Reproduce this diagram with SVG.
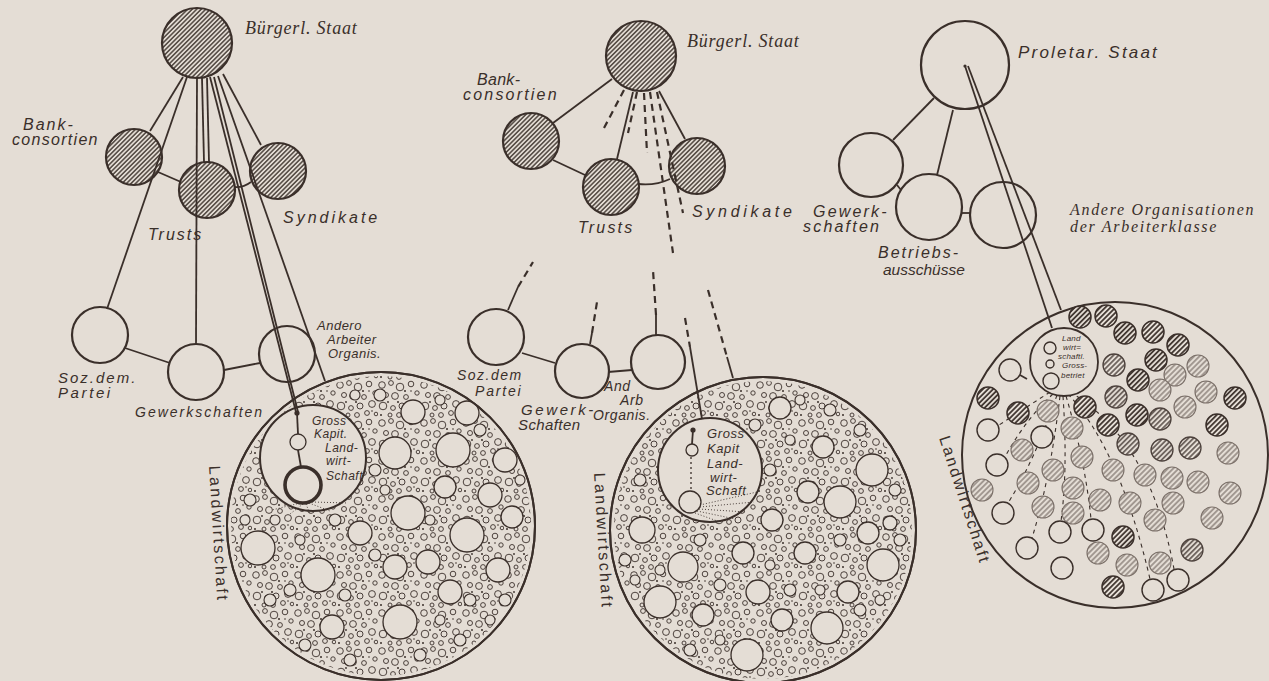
<svg xmlns="http://www.w3.org/2000/svg" width="1269" height="681" viewBox="0 0 1269 681">
<defs>
<style>
.bg{fill:#e4ddd5}
.node{stroke:#3a2f2a;stroke-width:2.2}
.hat{fill:url(#hatch)}
.open{fill:none}
.big{fill:#e4ddd5;stroke:#3a2f2a;stroke-width:2}
.bigo{fill:none;stroke:#3a2f2a;stroke-width:2}
.bub{fill:url(#bub)}
.lc{fill:#e4ddd5;stroke:#3a2f2a;stroke-width:1.3}
.mc{fill:#e4ddd5;stroke:#3a2f2a;stroke-width:1.1}
.conn line,.conn path{stroke:#3a2f2a;stroke-width:1.8;fill:none}
.conn .dash{stroke-dasharray:7 5;stroke-width:2.2}
.conn .dsh3{stroke-dasharray:4 4;stroke-width:1.1}
.p3d{fill:url(#h3d);stroke:#3a2f2a;stroke-width:1.5}
.p3m{fill:url(#h3m);stroke:#4d423d;stroke-width:1.3}
.p3l{fill:url(#h3l);stroke:#7a6f68;stroke-width:1.1}
.p3e{fill:#e4ddd5;stroke:#3a2f2a;stroke-width:1.4}
.hand{font-family:"Liberation Sans",Arial,sans-serif;font-style:italic;fill:#3a2f2a}
.upr{font-family:"Liberation Sans",Arial,sans-serif;fill:#3a2f2a}
.serif{font-family:"Liberation Serif","Times New Roman",serif;font-style:italic;fill:#3a2f2a}
</style>
<pattern id="hatch" width="3.2" height="10" patternUnits="userSpaceOnUse" patternTransform="rotate(45)"><line x1="1.6" y1="0" x2="1.6" y2="10" stroke="#3a2f2a" stroke-width="1.3"/></pattern>
<pattern id="h3d" width="3.6" height="10" patternUnits="userSpaceOnUse" patternTransform="rotate(45)"><rect width="3.6" height="10" fill="#e4ddd5"/><line x1="1.8" y1="0" x2="1.8" y2="10" stroke="#3a2f2a" stroke-width="1.7"/></pattern>
<pattern id="h3m" width="3.6" height="10" patternUnits="userSpaceOnUse" patternTransform="rotate(45)"><rect width="3.6" height="10" fill="#e4ddd5"/><line x1="1.8" y1="0" x2="1.8" y2="10" stroke="#4d423d" stroke-width="1.4"/></pattern>
<pattern id="h3l" width="3.8" height="10" patternUnits="userSpaceOnUse" patternTransform="rotate(45)"><rect width="3.8" height="10" fill="#e4ddd5"/><line x1="1.9" y1="0" x2="1.9" y2="10" stroke="#7a6f68" stroke-width="1.2"/></pattern>
<pattern id="bub" width="42" height="38" patternUnits="userSpaceOnUse">
<g fill="none" stroke="#3a2f2a" stroke-width="0.9">
<circle cx="4" cy="5" r="3.3"/><circle cx="13" cy="3" r="2.4"/><circle cx="22" cy="7" r="3.8"/><circle cx="33" cy="4" r="2.8"/><circle cx="39" cy="13" r="2.2"/><circle cx="8" cy="15" r="2.5"/><circle cx="17" cy="16" r="3.4"/><circle cx="28" cy="17" r="2.4"/><circle cx="36" cy="24" r="3.4"/><circle cx="5" cy="26" r="3.8"/><circle cx="15" cy="28" r="2.4"/><circle cx="24" cy="26" r="3"/><circle cx="31" cy="33" r="2.4"/><circle cx="12" cy="35" r="2"/><circle cx="21" cy="35" r="2.4"/><circle cx="40" cy="34" r="1.8"/>
</g>
<g fill="#3a2f2a"><circle cx="27" cy="11" r="1"/><circle cx="10" cy="22" r="0.9"/><circle cx="33" cy="11" r="0.8"/><circle cx="20" cy="22" r="1"/><circle cx="3" cy="35" r="1"/><circle cx="36" cy="31" r="0.8"/></g>
</pattern>
</defs>
<rect x="0" y="0" width="1269" height="681" class="bg"/>

<!-- Panel 1 big circle -->
<g id="p1-landwirtschaft">
<circle cx="381" cy="526" r="154" class="big"/>
<circle cx="381" cy="526" r="150" class="bub"/>
<g>
<circle cx="413" cy="412" r="12" class="lc"/><circle cx="467" cy="413" r="12" class="lc"/><circle cx="395" cy="453" r="16" class="lc"/><circle cx="453" cy="450" r="17" class="lc"/><circle cx="505" cy="460" r="12" class="lc"/><circle cx="408" cy="513" r="17" class="lc"/><circle cx="445" cy="487" r="11" class="lc"/><circle cx="490" cy="495" r="12" class="lc"/><circle cx="467" cy="535" r="17" class="lc"/><circle cx="512" cy="517" r="11" class="lc"/><circle cx="360" cy="533" r="12" class="lc"/><circle cx="258" cy="548" r="17" class="lc"/><circle cx="318" cy="575" r="17" class="lc"/><circle cx="395" cy="567" r="12" class="lc"/><circle cx="428" cy="562" r="12" class="lc"/><circle cx="450" cy="592" r="12" class="lc"/><circle cx="498" cy="570" r="12" class="lc"/><circle cx="400" cy="622" r="17" class="lc"/><circle cx="332" cy="627" r="12" class="lc"/>
<circle cx="250" cy="500" r="6" class="mc"/><circle cx="245" cy="520" r="5" class="mc"/><circle cx="270" cy="600" r="6" class="mc"/><circle cx="290" cy="590" r="6" class="mc"/><circle cx="305" cy="645" r="6" class="mc"/><circle cx="350" cy="660" r="6" class="mc"/><circle cx="420" cy="655" r="6" class="mc"/><circle cx="460" cy="640" r="6" class="mc"/><circle cx="490" cy="620" r="5" class="mc"/><circle cx="505" cy="600" r="6" class="mc"/><circle cx="520" cy="480" r="5" class="mc"/><circle cx="480" cy="430" r="6" class="mc"/><circle cx="440" cy="400" r="5" class="mc"/><circle cx="380" cy="395" r="6" class="mc"/><circle cx="355" cy="395" r="5" class="mc"/><circle cx="375" cy="470" r="6" class="mc"/><circle cx="385" cy="490" r="5" class="mc"/><circle cx="335" cy="520" r="6" class="mc"/><circle cx="300" cy="540" r="5" class="mc"/><circle cx="345" cy="595" r="6" class="mc"/><circle cx="375" cy="555" r="6" class="mc"/><circle cx="430" cy="520" r="5" class="mc"/><circle cx="440" cy="620" r="5" class="mc"/><circle cx="470" cy="600" r="6" class="mc"/><circle cx="275" cy="520" r="5" class="mc"/>
</g>
<circle cx="381" cy="526" r="154" class="bigo"/>
<text class="upr" font-size="16" letter-spacing="2.4" transform="translate(209,466) rotate(86.5)">Landwirtschaft</text>
</g>
<g id="p1-grosskapital">
<circle cx="313" cy="458" r="53" class="big"/>
<g stroke="#3a2f2a" stroke-width="0.9" stroke-dasharray="1 2" fill="none"><path d="M300,503 L272,510"/><path d="M303,504 L290,514"/><path d="M306,504 L310,514"/><path d="M309,503 L330,511"/><path d="M312,502 L348,503"/></g>
<circle cx="297" cy="413" r="2.6" fill="#3a2f2a"/>
<line x1="297" y1="413" x2="298" y2="434" stroke="#3a2f2a" stroke-width="1.8"/>
<circle cx="298" cy="442" r="8" class="lc" stroke-width="1.8"/>
<line x1="298" y1="450" x2="301" y2="467" stroke="#3a2f2a" stroke-width="1.8"/>
<circle cx="303" cy="485" r="18" fill="#e4ddd5" stroke="#3a2f2a" stroke-width="3.6"/>
<text class="hand" font-size="12" letter-spacing="0.5"><tspan x="312" y="425">Gross</tspan><tspan x="314" y="438">Kapit.</tspan><tspan x="325" y="452">Land-</tspan><tspan x="326" y="465">wirt-</tspan><tspan x="326" y="480">Schaft</tspan></text>
</g>

<!-- Panel 2 big circle -->
<g id="p2-landwirtschaft">
<circle cx="763" cy="530" r="153" class="big"/>
<circle cx="763" cy="530" r="149" class="bub"/>
<g>
<circle cx="780" cy="408" r="11" class="lc"/><circle cx="823" cy="447" r="11" class="lc"/><circle cx="872" cy="470" r="16" class="lc"/><circle cx="808" cy="492" r="11" class="lc"/><circle cx="840" cy="502" r="16" class="lc"/><circle cx="772" cy="520" r="11" class="lc"/><circle cx="868" cy="533" r="11" class="lc"/><circle cx="890" cy="523" r="7" class="lc"/><circle cx="642" cy="530" r="13" class="lc"/><circle cx="683" cy="567" r="15" class="lc"/><circle cx="743" cy="553" r="11" class="lc"/><circle cx="805" cy="553" r="11" class="lc"/><circle cx="883" cy="565" r="16" class="lc"/><circle cx="758" cy="592" r="12" class="lc"/><circle cx="848" cy="592" r="11" class="lc"/><circle cx="660" cy="602" r="16" class="lc"/><circle cx="703" cy="615" r="11" class="lc"/><circle cx="782" cy="620" r="11" class="lc"/><circle cx="827" cy="628" r="16" class="lc"/><circle cx="747" cy="655" r="16" class="lc"/>
<circle cx="640" cy="480" r="6" class="mc"/><circle cx="625" cy="560" r="6" class="mc"/><circle cx="635" cy="580" r="5" class="mc"/><circle cx="690" cy="650" r="6" class="mc"/><circle cx="720" cy="640" r="5" class="mc"/><circle cx="700" cy="540" r="6" class="mc"/><circle cx="720" cy="585" r="6" class="mc"/><circle cx="770" cy="565" r="5" class="mc"/><circle cx="790" cy="590" r="6" class="mc"/><circle cx="820" cy="590" r="5" class="mc"/><circle cx="860" cy="610" r="6" class="mc"/><circle cx="880" cy="600" r="5" class="mc"/><circle cx="900" cy="540" r="6" class="mc"/><circle cx="895" cy="490" r="6" class="mc"/><circle cx="860" cy="430" r="6" class="mc"/><circle cx="830" cy="410" r="6" class="mc"/><circle cx="800" cy="400" r="5" class="mc"/><circle cx="755" cy="425" r="6" class="mc"/><circle cx="770" cy="470" r="6" class="mc"/><circle cx="790" cy="440" r="5" class="mc"/><circle cx="840" cy="540" r="6" class="mc"/><circle cx="660" cy="570" r="5" class="mc"/>
</g>
<circle cx="763" cy="530" r="153" class="bigo"/>
<text class="upr" font-size="16" letter-spacing="2.4" transform="translate(594,473) rotate(86.7)">Landwirtschaft</text>
</g>
<g id="p2-grosskapital">
<circle cx="710" cy="470" r="52" class="big"/>
<g stroke="#3a2f2a" stroke-width="0.9" stroke-dasharray="1 2" fill="none"><path d="M700,505 L757,492"/><path d="M700,507 L754,502"/><path d="M699,509 L746,512"/><path d="M697,511 L735,519"/><path d="M695,513 L720,522"/></g>
<circle cx="693" cy="430" r="2.6" fill="#3a2f2a"/>
<line x1="693" y1="430" x2="692" y2="444" stroke="#3a2f2a" stroke-width="1.8"/>
<circle cx="692" cy="450" r="6" class="lc" stroke-width="1.8"/>
<line x1="691" y1="457" x2="691" y2="490" stroke="#3a2f2a" stroke-width="1.3" stroke-dasharray="2 3"/>
<circle cx="690" cy="502" r="11" class="lc" stroke-width="1.8"/>
<text class="hand" font-size="13" letter-spacing="0.6"><tspan x="707" y="438">Gross</tspan><tspan x="707" y="453">Kapit</tspan><tspan x="707" y="468">Land-</tspan><tspan x="710" y="482">wirt-</tspan><tspan x="706" y="495">Schaft</tspan></text>
</g>

<!-- Panel 3 big circle -->
<g id="p3-landwirtschaft">
<circle cx="1115" cy="455" r="153" class="big"/>
<text class="upr" font-size="16" letter-spacing="2.2" transform="translate(939,438) rotate(72)">Landwirtschaft</text>
</g>

<!-- Connectors -->
<g id="connectors" class="conn">
<line x1="183" y1="77" x2="150" y2="131"/>
<line x1="187" y1="77" x2="107" y2="309"/>
<line x1="197" y1="78" x2="196" y2="344"/>
<line x1="202" y1="78" x2="204" y2="162"/>
<line x1="207" y1="78" x2="209" y2="162"/>
<line x1="210" y1="77" x2="296" y2="412"/>
<line x1="214" y1="77" x2="298" y2="412"/>
<line x1="218" y1="76" x2="325" y2="381"/>
<line x1="223" y1="74" x2="261" y2="145"/>
<line x1="158" y1="172" x2="181" y2="182"/>
<path d="M234,187 Q243,188 251,182"/>
<line x1="125" y1="348" x2="170" y2="363"/>
<line x1="224" y1="370" x2="260" y2="363"/>
<line x1="612" y1="79" x2="553" y2="123"/>
<line class="dash" x1="624" y1="90" x2="603" y2="130"/>
<line x1="633" y1="92" x2="617" y2="159"/>
<line class="dash" x1="637" y1="92" x2="628" y2="133"/>
<line class="dash" x1="644" y1="93" x2="647" y2="153"/>
<line class="dash" x1="650" y1="92" x2="673" y2="253"/>
<line class="dash" x1="657" y1="92" x2="683" y2="213"/>
<line x1="659" y1="91" x2="685" y2="139"/>
<line x1="553" y1="160" x2="585" y2="175"/>
<path d="M638,184 Q655,186 670,179"/>
<line x1="508" y1="310" x2="518" y2="287"/>
<line class="dash" x1="518" y1="287" x2="533" y2="262"/>
<line x1="590" y1="344" x2="592" y2="333"/>
<line class="dash" x1="592" y1="333" x2="597" y2="302"/>
<line x1="656" y1="335" x2="656" y2="315"/>
<line class="dash" x1="656" y1="315" x2="653" y2="270"/>
<line class="dash" x1="685" y1="318" x2="690" y2="347"/>
<line x1="690" y1="347" x2="702" y2="419"/>
<line class="dash" x1="708" y1="290" x2="727" y2="357"/>
<line x1="727" y1="357" x2="733" y2="378"/>
<line x1="522" y1="353" x2="555" y2="363"/>
<line x1="608" y1="372" x2="632" y2="370"/>
<line x1="934" y1="98" x2="893" y2="140"/>
<line x1="953" y1="110" x2="937" y2="175"/>
<line x1="897" y1="185" x2="901" y2="190"/>
<line x1="962" y1="213" x2="970" y2="213"/>
<line x1="965" y1="66" x2="1052" y2="328"/>
<line x1="968" y1="66" x2="1061" y2="310"/>
<circle cx="965" cy="66" r="1.6" fill="#3a2f2a" stroke="none"/>
<path class="dsh3" d="M1050,392 L999,425"/>
<path class="dsh3" d="M1053,394 Q1025,420 1005,457"/>
<path class="dsh3" d="M1057,395 Q1035,460 1008,503"/>
<path class="dsh3" d="M1060,396 Q1050,480 1032,538"/>
<path class="dsh3" d="M1063,396 Q1068,470 1061,521"/>
<path class="dsh3" d="M1066,396 Q1085,460 1091,519"/>
<path class="dsh3" d="M1068,394 Q1120,450 1150,579"/>
<path class="dsh3" d="M1070,392 Q1150,440 1174,569"/>
<line x1="1020" y1="375" x2="1027" y2="379" stroke-width="1.3"/>
</g>

<!-- Panel 1 nodes -->
<g id="p1-staat"><circle cx="197" cy="43" r="35" class="node hat"/><text class="serif" font-size="18" letter-spacing="0.8" x="245" y="34">Bürgerl. Staat</text></g>
<g id="p1-bank"><circle cx="134" cy="157" r="28" class="node hat"/><text class="hand" font-size="16" letter-spacing="2"><tspan x="23" y="130">Bank-</tspan><tspan x="12" y="145" letter-spacing="1.3">consortien</tspan></text></g>
<g id="p1-trusts"><circle cx="207" cy="190" r="28" class="node hat"/><text class="hand" font-size="16" letter-spacing="2" x="148" y="240">Trusts</text></g>
<g id="p1-syndikate"><circle cx="278" cy="171" r="28" class="node hat"/><text class="hand" font-size="16" letter-spacing="3" x="283" y="223">Syndikate</text></g>
<g id="p1-sozdem"><circle cx="100" cy="335" r="28" class="node open"/><text class="hand" font-size="15" letter-spacing="2"><tspan x="58" y="383">Soz.dem.</tspan><tspan x="58" y="398" letter-spacing="2.6">Partei</tspan></text></g>
<g id="p1-gewerkschaften"><circle cx="196" cy="372" r="28" class="node open"/><text class="hand" font-size="14" letter-spacing="2" x="135" y="417">Gewerkschaften</text></g>
<g id="p1-andere"><circle cx="287" cy="354" r="28" class="node open"/><text class="hand" font-size="13" letter-spacing="0.5"><tspan x="317" y="330">Andero</tspan><tspan x="327" y="344">Arbeiter</tspan><tspan x="328" y="358">Organis.</tspan></text></g>

<!-- Panel 2 nodes -->
<g id="p2-staat"><circle cx="641" cy="56" r="35" class="node hat"/><text class="serif" font-size="18" letter-spacing="0.8" x="687" y="47">Bürgerl. Staat</text></g>
<g id="p2-bank"><circle cx="531" cy="141" r="28" class="node hat"/><text class="hand" font-size="16"><tspan x="477" y="85" letter-spacing="0.3">Bank-</tspan><tspan x="463" y="100" letter-spacing="2.2">consortien</tspan></text></g>
<g id="p2-trusts"><circle cx="611" cy="187" r="28" class="node hat"/><text class="hand" font-size="16" letter-spacing="2.2" x="578" y="233">Trusts</text></g>
<g id="p2-syndikate"><circle cx="697" cy="166" r="28" class="node hat"/><text class="hand" font-size="16" letter-spacing="3.7" x="692" y="217">Syndikate</text></g>
<g id="p2-sozdem"><circle cx="496" cy="337" r="28" class="node open"/><text class="hand" font-size="14"><tspan x="457" y="380" letter-spacing="1.5">Soz.dem</tspan><tspan x="475" y="396" letter-spacing="1.8">Partei</tspan></text></g>
<g id="p2-gewerkschaften"><circle cx="582" cy="371" r="27" class="node open"/><text class="hand" font-size="15"><tspan x="521" y="415" letter-spacing="2.6">Gewerk-</tspan><tspan x="518" y="430" letter-spacing="0.4">Schaften</tspan></text></g>
<g id="p2-andere"><circle cx="658" cy="362" r="27" class="node open"/><text class="hand" font-size="14" letter-spacing="0.6"><tspan x="604" y="391">And</tspan><tspan x="620" y="405">Arb</tspan><tspan x="593" y="420">Organis.</tspan></text></g>

<!-- Panel 3 nodes -->
<g id="p3-staat"><circle cx="965" cy="65" r="44" class="node open"/><text class="hand" font-size="17" letter-spacing="2.2" x="1018" y="58">Proletar. Staat</text></g>
<g id="p3-gewerkschaften"><circle cx="871" cy="165" r="32" class="node open"/><text class="hand" font-size="16" letter-spacing="2.2"><tspan x="813" y="217">Gewerk-</tspan><tspan x="803" y="232">schaften</tspan></text></g>
<g id="p3-betriebsausschuesse"><circle cx="929" cy="207" r="33" class="node open"/><text class="hand" font-size="16"><tspan x="878" y="258" letter-spacing="2">Betriebs-</tspan><tspan x="883" y="275" font-size="15.5" letter-spacing="0">ausschüsse</tspan></text></g>
<g id="p3-andere"><circle cx="1003" cy="215" r="33" class="node open"/><text class="serif" font-size="16" letter-spacing="1.7"><tspan x="1070" y="215">Andere Organisationen</tspan><tspan x="1070" y="232">der Arbeiterklasse</tspan></text></g>

<!-- Panel 3 farm circles -->
<g id="p3-betriebe">
<circle cx="1080" cy="317" r="11" class="p3d"/><circle cx="1106" cy="316" r="11" class="p3d"/><circle cx="1125" cy="333" r="11" class="p3d"/><circle cx="1153" cy="332" r="11" class="p3d"/><circle cx="1178" cy="345" r="11" class="p3d"/><circle cx="1114" cy="365" r="11" class="p3m"/><circle cx="1156" cy="360" r="11" class="p3d"/><circle cx="1138" cy="380" r="11" class="p3d"/><circle cx="1175" cy="375" r="11" class="p3l"/><circle cx="1198" cy="366" r="11" class="p3l"/><circle cx="1206" cy="392" r="11" class="p3l"/><circle cx="1160" cy="390" r="11" class="p3l"/><circle cx="1116" cy="397" r="11" class="p3m"/><circle cx="1235" cy="398" r="11" class="p3d"/><circle cx="1185" cy="407" r="11" class="p3l"/><circle cx="1085" cy="407" r="11" class="p3d"/><circle cx="1137" cy="415" r="11" class="p3d"/><circle cx="1160" cy="419" r="11" class="p3m"/><circle cx="1108" cy="425" r="11" class="p3d"/><circle cx="1217" cy="425" r="11" class="p3d"/><circle cx="1128" cy="444" r="11" class="p3m"/><circle cx="1162" cy="450" r="11" class="p3m"/><circle cx="1190" cy="448" r="11" class="p3m"/><circle cx="1228" cy="453" r="11" class="p3l"/>
<circle cx="988" cy="398" r="11" class="p3d"/><circle cx="1018" cy="413" r="11" class="p3d"/><circle cx="1048" cy="411" r="11" class="p3l"/><circle cx="1072" cy="428" r="11" class="p3l"/><circle cx="1042" cy="437" r="11" class="p3e"/><circle cx="988" cy="430" r="11" class="p3e"/><circle cx="1022" cy="450" r="11" class="p3l"/><circle cx="1082" cy="457" r="11" class="p3l"/><circle cx="1113" cy="470" r="11" class="p3l"/><circle cx="1145" cy="475" r="11" class="p3l"/><circle cx="1172" cy="478" r="11" class="p3l"/><circle cx="1198" cy="482" r="11" class="p3l"/><circle cx="997" cy="465" r="11" class="p3e"/><circle cx="1053" cy="470" r="11" class="p3l"/><circle cx="1028" cy="483" r="11" class="p3l"/><circle cx="982" cy="490" r="11" class="p3l"/><circle cx="1073" cy="488" r="11" class="p3l"/><circle cx="1130" cy="503" r="11" class="p3l"/><circle cx="1173" cy="503" r="11" class="p3l"/><circle cx="1230" cy="493" r="11" class="p3l"/><circle cx="1043" cy="507" r="11" class="p3l"/><circle cx="1003" cy="513" r="11" class="p3e"/><circle cx="1073" cy="513" r="11" class="p3l"/><circle cx="1100" cy="500" r="11" class="p3l"/><circle cx="1155" cy="520" r="11" class="p3l"/><circle cx="1212" cy="518" r="11" class="p3l"/><circle cx="1060" cy="532" r="11" class="p3e"/><circle cx="1093" cy="530" r="11" class="p3e"/><circle cx="1123" cy="537" r="11" class="p3d"/><circle cx="1027" cy="548" r="11" class="p3e"/><circle cx="1098" cy="553" r="11" class="p3l"/><circle cx="1062" cy="568" r="11" class="p3e"/><circle cx="1127" cy="565" r="11" class="p3l"/><circle cx="1160" cy="563" r="11" class="p3l"/><circle cx="1192" cy="550" r="11" class="p3m"/><circle cx="1113" cy="587" r="11" class="p3d"/><circle cx="1178" cy="580" r="11" class="p3e"/><circle cx="1153" cy="590" r="11" class="p3e"/><circle cx="1010" cy="370" r="11" class="p3e"/>
</g>
<g id="p3-grossbetrieb">
<circle cx="1064" cy="362" r="34" fill="#e4ddd5" stroke="#3a2f2a" stroke-width="1.8"/>
<circle cx="1050" cy="348" r="6" class="p3e"/><circle cx="1050" cy="364" r="4" class="p3e"/><circle cx="1051" cy="381" r="8" class="p3e"/>
<text class="hand" font-size="8" letter-spacing="0.2"><tspan x="1062" y="341">Land</tspan><tspan x="1063" y="350">wirt=</tspan><tspan x="1058" y="359">schaftl.</tspan><tspan x="1062" y="368">Gross-</tspan><tspan x="1061" y="378">betriet</tspan></text>
</g>
</svg>
